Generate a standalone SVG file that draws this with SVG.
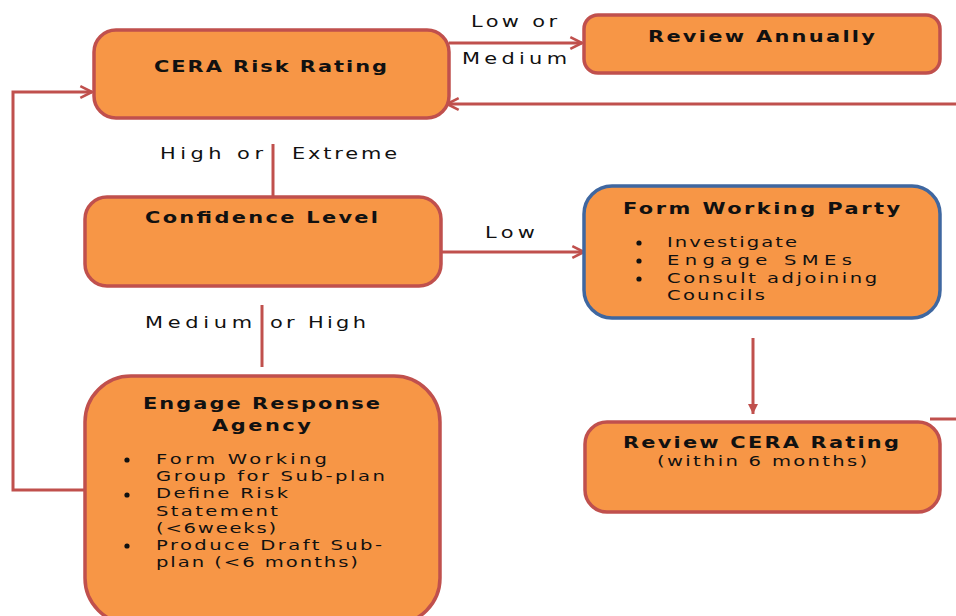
<svg xmlns="http://www.w3.org/2000/svg" width="956" height="616" viewBox="0 0 956 616">
<defs>
<style>
.box{fill:#f79646;stroke:#c0504d;stroke-width:3.5}
.blue{stroke:#3f67a0}
.t{font-family:"DejaVu Sans","Liberation Sans",sans-serif;fill:#111}
.h{font-size:15.5px;font-weight:bold}
.b{font-size:14.5px}
.l{font-size:15.5px}
.c{fill:none;stroke:#c0504d;stroke-width:3}
</style>
<marker id="open" viewBox="0 0 12 12" refX="11" refY="6" markerWidth="14" markerHeight="14" markerUnits="userSpaceOnUse" orient="auto">
<path d="M1,1 L11,6 L1,11" fill="none" stroke="#c0504d" stroke-width="2.2"/>
</marker>
<marker id="solid" viewBox="0 0 12 10" refX="10" refY="5" markerWidth="14" markerHeight="10" markerUnits="userSpaceOnUse" orient="auto">
<path d="M0,0 L10,5 L0,10 Z" fill="#c0504d"/>
</marker>
</defs>
<rect width="956" height="616" fill="#fff"/>

<g id="connectors">
<path class="c" d="M449,43 H582" marker-end="url(#open)"/>
<path class="c" d="M956,104 H447" marker-end="url(#open)"/>
<path class="c" d="M85,490 H13 V92 H92" marker-end="url(#open)"/>
<path class="c" d="M273,144 V196"/>
<path class="c" d="M441,252 H584" marker-end="url(#open)"/>
<path class="c" d="M262,305 V367"/>
<path class="c" d="M753,338 V414" marker-end="url(#solid)"/>
<path class="c" d="M930,419 H956"/>
<text class="t l" transform="translate(471,27) scale(1.35,1)" textLength="63.7" lengthAdjust="spacing">Low or</text>
<text class="t l" transform="translate(462,64) scale(1.35,1)" textLength="77.8" lengthAdjust="spacing">Medium</text>
<text class="t l" transform="translate(160,159) scale(1.35,1)" textLength="76.3" lengthAdjust="spacing">High  or</text>
<text class="t l" transform="translate(292,159) scale(1.35,1)" textLength="77.8" lengthAdjust="spacing">Extreme</text>
<text class="t l" transform="translate(485,238) scale(1.35,1)" textLength="37" lengthAdjust="spacing">Low</text>
<text class="t l" transform="translate(145,328) scale(1.35,1)" textLength="79.3" lengthAdjust="spacing">Medium</text>
<text class="t l" transform="translate(270,328) scale(1.35,1)" textLength="71.1" lengthAdjust="spacing">or High</text>
</g>

<g id="cera">
<rect class="box" x="94" y="30" width="355" height="88" rx="22"/>
<text class="t h" transform="translate(154,72) scale(1.35,1)" textLength="172.6" lengthAdjust="spacing">CERA Risk Rating</text>
</g>

<g id="review-annually">
<rect class="box" x="584" y="15" width="356" height="58" rx="14"/>
<text class="t h" transform="translate(648,42) scale(1.35,1)" textLength="168.1" lengthAdjust="spacing">Review Annually</text>
</g>

<g id="confidence">
<rect class="box" x="85" y="197" width="356" height="89" rx="22"/>
<text class="t h" transform="translate(145,223) scale(1.35,1)" textLength="172.6" lengthAdjust="spacing">Confidence Level</text>
</g>

<g id="working-party">
<rect class="box blue" x="584" y="186" width="356" height="132" rx="28"/>
<text class="t h" transform="translate(623,214) scale(1.35,1)" textLength="205.2" lengthAdjust="spacing">Form Working Party</text>
<circle cx="639" cy="243" r="2.6" fill="#111"/>
<circle cx="639" cy="261" r="2.6" fill="#111"/>
<circle cx="639" cy="279" r="2.6" fill="#111"/>
<text class="t b" transform="translate(667,247) scale(1.35,1)" textLength="96.3" lengthAdjust="spacing">Investigate</text>
<text class="t b" transform="translate(667,265) scale(1.35,1)" textLength="137" lengthAdjust="spacing">Engage SMEs</text>
<text class="t b" transform="translate(667,283) scale(1.35,1)" textLength="155.6" lengthAdjust="spacing">Consult adjoining</text>
<text class="t b" transform="translate(667,300) scale(1.35,1)" textLength="72.6" lengthAdjust="spacing">Councils</text>
</g>

<g id="engage">
<rect class="box" x="85" y="376" width="355" height="248" rx="46"/>
<text class="t h" transform="translate(143,409) scale(1.35,1)" textLength="175.6" lengthAdjust="spacing">Engage Response</text>
<text class="t h" transform="translate(212,431) scale(1.35,1)" textLength="73.3" lengthAdjust="spacing">Agency</text>
<circle cx="127" cy="460" r="2.6" fill="#111"/>
<circle cx="127" cy="495" r="2.6" fill="#111"/>
<circle cx="127" cy="546" r="2.6" fill="#111"/>
<text class="t b" transform="translate(156,464) scale(1.35,1)" textLength="126.7" lengthAdjust="spacing">Form Working</text>
<text class="t b" transform="translate(156,481) scale(1.35,1)" textLength="169.6" lengthAdjust="spacing">Group for Sub-plan</text>
<text class="t b" transform="translate(156,498) scale(1.35,1)" textLength="97.8" lengthAdjust="spacing">Define Risk</text>
<text class="t b" transform="translate(156,516) scale(1.35,1)" textLength="90.4" lengthAdjust="spacing">Statement</text>
<text class="t b" transform="translate(156,533) scale(1.35,1)" textLength="88.9" lengthAdjust="spacing">(&lt;6weeks)</text>
<text class="t b" transform="translate(156,550) scale(1.35,1)" textLength="167.4" lengthAdjust="spacing">Produce Draft Sub-</text>
<text class="t b" transform="translate(156,567) scale(1.35,1)" textLength="149.6" lengthAdjust="spacing">plan (&lt;6 months)</text>
</g>

<g id="review-cera">
<rect class="box" x="585" y="422" width="355" height="90" rx="22"/>
<text class="t h" transform="translate(623,448) scale(1.35,1)" textLength="204.4" lengthAdjust="spacing">Review CERA Rating</text>
<text class="t b" transform="translate(657,466) scale(1.35,1)" textLength="155.6" lengthAdjust="spacing">(within 6 months)</text>
</g>
</svg>
